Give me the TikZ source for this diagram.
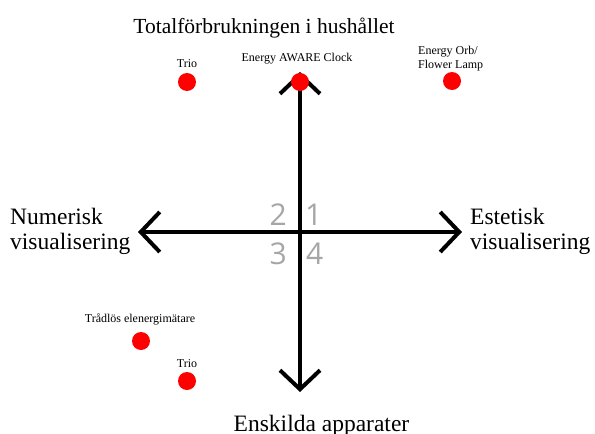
\documentclass[tikz,border=0pt]{standalone}
\usepackage{fontspec}
\setmainfont{Liberation Serif}
\newfontfamily\siffror{Open Sans}
\usetikzlibrary{arrows.meta}
\definecolor{kvadrantgra}{RGB}{166,166,166}
\tikzset{
  axel/.style={line width=4pt, line join=miter,
    {Straight Barb[length=19pt,width=40pt]}-{Straight Barb[length=19pt,width=40pt]}},
  prick/.style={circle, fill=red, inner sep=0pt, minimum size=18pt},
  rubrik/.style={inner sep=0pt, font=\fontsize{21.5}{25}\selectfont},
  sidtext/.style={inner sep=0pt, align=left, font=\fontsize{23.5}{25}\selectfont},
  etikett/.style={inner sep=0pt, align=left, font=\fontsize{12}{14}\selectfont},
  kvadrant/.style={inner sep=0pt, text=kvadrantgra, font=\siffror\fontsize{30}{30}\selectfont}
}
\begin{document}
\begin{tikzpicture}[x=1pt, y=-1pt]
\useasboundingbox (0,0) rectangle (595,434);
%
\coordinate (upp) at (300,72);
\coordinate (ned) at (300,392);
\coordinate (vanster) at (138,232);
\coordinate (hoger) at (462,232);
\draw [axel] (vanster) -- (hoger);
\draw [axel] (upp) -- (ned);
%
\node [rubrik, anchor=base] (total) at (264,33) {Totalförbrukningen i hushållet};
\node [rubrik, anchor=base, font=\fontsize{23.5}{25}\selectfont] (enskilda) at (321.5,431) {Enskilda apparater};
\node [sidtext, anchor=west] (numerisk) at (10,231) {Numerisk\\visualisering};
\node [sidtext, anchor=west] (estetisk) at (470,231) {Estetisk\\visualisering};
%
\node [kvadrant, anchor=base west] (k1) at (305,225) {1};
\node [kvadrant, anchor=base east] (k2) at (287,225) {2};
\node [kvadrant, anchor=base east] (k3) at (287,264) {3};
\node [kvadrant, anchor=base west] (k4) at (306,264) {4};
%
\node [prick] (trioUpp) at (187,82) {};
\node [prick] (clock) at (300,82) {};
\node [prick] (orb) at (452,81) {};
\node [prick] (tradlos) at (141,341) {};
\node [prick] (trioNed) at (187,381) {};
%
\node [etikett, anchor=base] (trioUppText) at (187,67) {Trio};
\node [etikett, anchor=base] (clockText) at (297,61) {Energy AWARE Clock};
\node [etikett, anchor=north west] (orbText) at (418,46) {Energy Orb/\\Flower Lamp};
\node [etikett, anchor=base] (tradlosText) at (140,322) {Trådlös elenergimätare};
\node [etikett, anchor=base] (trioNedText) at (187,367) {Trio};
%%%%%%%%%%%%%%%%%%%%%%%%%%%%%%%
\end{tikzpicture}
\end{document}
